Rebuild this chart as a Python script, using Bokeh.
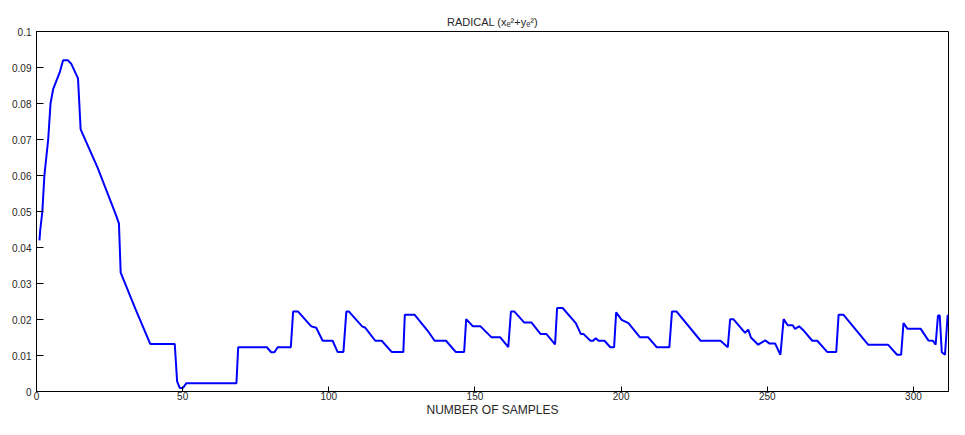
from bokeh.plotting import figure
from bokeh.models import Range1d, FixedTicker
from bokeh.embed import file_html
from bokeh.resources import INLINE

# ---- data ----
samples = [1, 1.3, 2, 2.7, 4, 4.8, 5.7, 8, 9.1, 10.8, 11.9, 14.2, 15.1, 20.9, 27.1, 28.2,
           28.8, 33.8, 38.9, 47.3, 48.1, 49, 50.1, 51.3, 68.4, 69, 78.8, 80.3, 81.4, 82.5,
           87, 87.8, 89.5, 94, 95.7, 97.9, 101.3, 103, 105, 106, 106.9, 111.4, 112.5, 115.9,
           118.1, 121.5, 125.5, 126, 129.4, 133.9, 136.2, 140.1, 143.4, 146.3, 147, 149.3,
           151.9, 155.6, 158.6, 161.4, 162.3, 163.5, 166.8, 169.3, 172.4, 174.4, 177.4, 178.1,
           180, 184.5, 186.2, 187.1, 189.5, 190.4, 191.3, 192.3, 194.3, 196.3, 197.6, 198.3,
           200.2, 202.5, 206.4, 209.2, 212.2, 216.5, 217.4, 219, 227.2, 234, 236.5, 237.3,
           238.4, 242.4, 243.5, 244.4, 246.9, 249.3, 250.8, 252.7, 254.5, 255.6, 257, 258.7,
           259.5, 260.9, 262.6, 265.4, 267.1, 270.5, 273.6, 274.4, 276.1, 284.5, 291.3, 294.4,
           295.8, 296.6, 298, 302.5, 305.1, 306.7, 307.6, 308.4, 309, 309.7, 310.8, 311.7, 312]
radical = [0.042, 0.045, 0.050, 0.060, 0.070, 0.080, 0.084, 0.0888, 0.092, 0.092, 0.091, 0.087, 0.0728, 0.0622, 0.0492, 0.0467,
           0.033, 0.023, 0.0132, 0.0132, 0.0028, 0.001, 0.001, 0.0023, 0.0023, 0.0123, 0.0123, 0.0109, 0.0109, 0.0123,
           0.0123, 0.0222, 0.0222, 0.0181, 0.0177, 0.0141, 0.0141, 0.011, 0.011, 0.0222, 0.0222, 0.0181, 0.0177, 0.0141,
           0.0141, 0.011, 0.011, 0.0213, 0.0213, 0.0168, 0.0141, 0.0141, 0.011, 0.011, 0.0201, 0.0181,
           0.0181, 0.0151, 0.0151, 0.0123, 0.0222, 0.0222, 0.0192, 0.0192, 0.016, 0.016, 0.0131, 0.0232,
           0.0232, 0.019, 0.016, 0.016, 0.0141, 0.0141, 0.0148, 0.0141, 0.0141, 0.0123, 0.0123, 0.022,
           0.0199, 0.019, 0.0151, 0.0151, 0.0123, 0.0123, 0.0222, 0.0222, 0.0141, 0.0141, 0.0123, 0.0201,
           0.0201, 0.0163, 0.0172, 0.015, 0.013, 0.0142, 0.0133, 0.0133, 0.0102, 0.0201, 0.0184, 0.0184,
           0.0174, 0.0181, 0.0168, 0.0141, 0.0141, 0.011, 0.011, 0.0213, 0.0213, 0.013, 0.013, 0.0102,
           0.0102, 0.019, 0.0174, 0.0174, 0.0142, 0.0141, 0.013, 0.0211, 0.0211, 0.0109, 0.0102, 0.0211, 0.0211]

x_ticks = [0, 50, 100, 150, 200, 250, 300]
y_ticks = [0, 0.01, 0.02, 0.03, 0.04, 0.05, 0.06, 0.07, 0.08, 0.09, 0.1]
y_tick_labels = ["0", "0.01", "0.02", "0.03", "0.04", "0.05", "0.06", "0.07", "0.08", "0.09", "0.1"]

FONT = "Liberation Sans"
TXT = "#262626"

p = figure(width=949, height=419, output_backend="svg", toolbar_location=None,
           x_range=Range1d(0, 312), y_range=Range1d(0, 0.1),
           title="RADICAL (x\u2091\u00b2+y\u2091\u00b2)",
           x_axis_label="NUMBER OF SAMPLES",
           min_border_left=36, min_border_right=1, min_border_top=31, min_border_bottom=10)

p.line(samples, radical, line_color="#0000FF", line_width=2)

p.title.align = "center"
p.title.text_font = FONT
p.title.text_font_size = "11px"
p.title.text_font_style = "normal"
p.title.text_color = TXT
p.title.offset = 0
p.title.standoff = 8

p.grid.visible = False
p.outline_line_color = "black"
p.outline_line_alpha = 1.0
p.background_fill_color = "white"
p.border_fill_color = "white"

xa = p.xaxis[0]
xa.ticker = FixedTicker(ticks=x_ticks)
xa.major_tick_in = 5
xa.major_tick_out = 0
xa.minor_tick_in = 0
xa.minor_tick_out = 0
xa.major_label_standoff = 0
xa.major_label_text_font = FONT
xa.major_label_text_font_size = "10px"
xa.major_label_text_color = TXT
xa.axis_label_text_font = FONT
xa.axis_label_text_font_size = "12px"
xa.axis_label_text_font_style = "normal"
xa.axis_label_text_color = TXT
xa.axis_label_standoff = 0
xa.axis_line_color = "black"
xa.major_tick_line_color = "black"

ya = p.yaxis[0]
ya.ticker = FixedTicker(ticks=y_ticks)
ya.major_label_overrides = {t: l for t, l in zip(y_ticks, y_tick_labels)}
ya.major_tick_in = 7
ya.major_tick_out = 0
ya.minor_tick_in = 0
ya.minor_tick_out = 0
ya.major_label_standoff = 5
ya.major_label_text_font = FONT
ya.major_label_text_font_size = "10px"
ya.major_label_text_color = TXT
ya.axis_line_color = "black"
ya.major_tick_line_color = "black"

open("out.html", "w").write(file_html(p, INLINE))
